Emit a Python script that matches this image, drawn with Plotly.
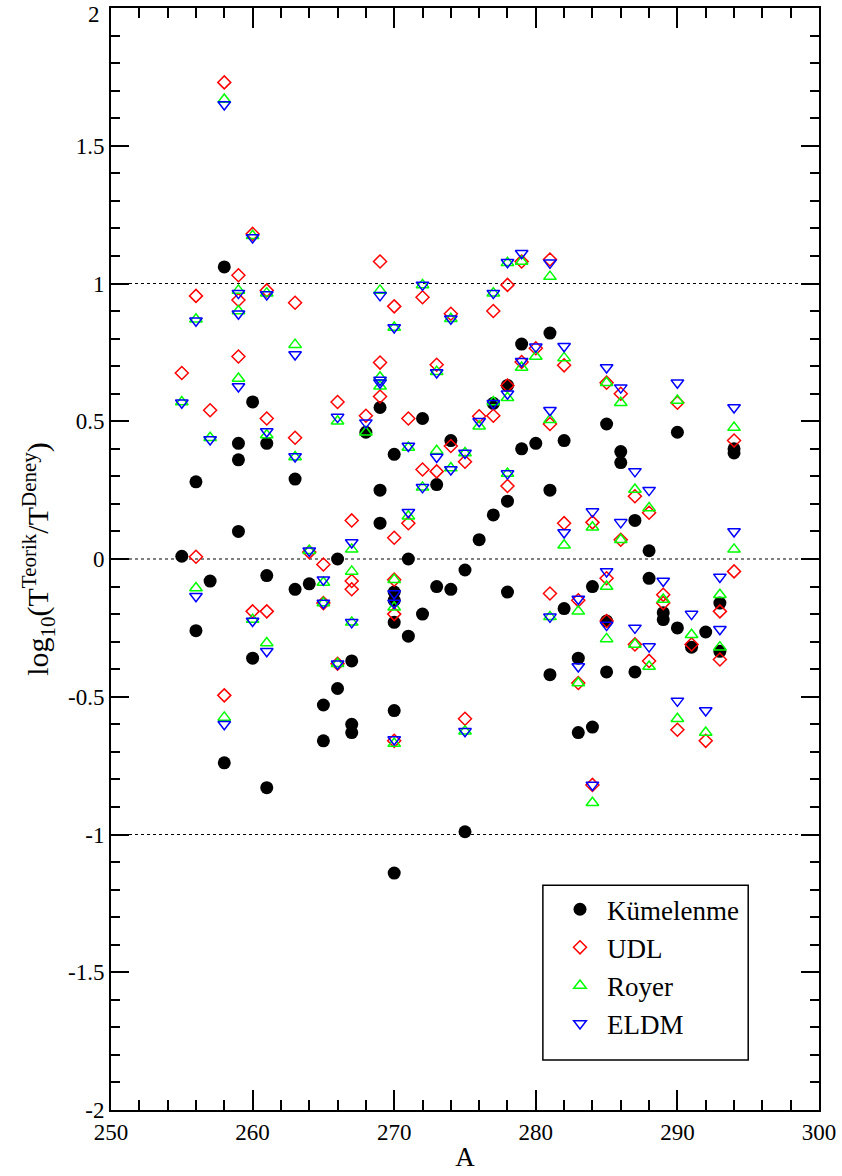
import plotly.graph_objects as go

# Kümelenme (cluster model) values
kum_A = [255, 256, 256, 257, 258, 258, 259, 259, 259, 260, 260, 261, 261, 261,
         263, 263, 264, 265, 265, 266, 266, 267, 267, 267, 268, 269, 269, 269,
         270, 270, 270, 270, 270, 270, 271, 271, 272, 272, 273, 273, 274, 274,
         275, 275, 276, 277, 277, 278, 278, 278, 279, 279, 280, 281, 281, 281,
         282, 282, 283, 283, 284, 284, 285, 285, 285, 286, 286, 287, 287, 288,
         288, 289, 289, 290, 290, 291, 292, 293, 293, 294, 294]
kum_val = [0.01, 0.28, -0.26, -0.08, 1.06, -0.74, 0.42, 0.36, 0.10, 0.57, -0.36,
           0.42, -0.06, -0.83, 0.29, -0.11, -0.09, -0.53, -0.66, 0.0, -0.47,
           -0.37, -0.60, -0.63, 0.46, 0.55, 0.25, 0.13, 0.38, -0.12, -0.15,
           -0.23, -0.55, -1.14, 0.0, -0.28, 0.51, -0.20, 0.27, -0.10, 0.43, -0.11,
           -0.04, -0.99, 0.07, 0.565, 0.16, 0.63, 0.21, -0.12, 0.78, 0.40, 0.42,
           0.82, 0.25, -0.42, 0.43, -0.18, -0.36, -0.63, -0.10, -0.61, 0.49,
           -0.225, -0.41, 0.39, 0.35, 0.14, -0.41, 0.03, -0.07, -0.195, -0.22,
           0.46, -0.25, -0.32, -0.265, -0.16, -0.335, 0.40, 0.385]

# UDL values
udl_A = [255, 256, 256, 257, 258, 258, 259, 259, 259, 260, 260, 261, 261, 261,
         263, 263, 264, 265, 265, 266, 266, 267, 267, 267, 268, 269, 269, 269,
         270, 270, 270, 270, 270, 271, 271, 272, 272, 273, 273, 274, 274, 275,
         275, 276, 277, 277, 278, 278, 278, 279, 279, 280, 281, 281, 281, 282,
         282, 283, 283, 284, 284, 285, 285, 285, 286, 286, 287, 287, 288, 288,
         289, 289, 290, 290, 291, 292, 293, 293, 294, 294]
udl_val = [0.675, 0.955, 0.008, 0.54, 1.73, -0.495, 1.03, 0.94, 0.735, 1.18,
           -0.19, 0.975, 0.51, -0.19, 0.93, 0.44, 0.025, -0.02, -0.16, 0.57,
           -0.38, 0.14, -0.08, -0.11, 0.52, 1.08, 0.713, 0.59, 0.917, 0.077,
           -0.075, -0.20, -0.66, 0.51, 0.13, 0.95, 0.325, 0.705, 0.318, 0.89,
           0.41, 0.353, -0.58, 0.518, 0.90, 0.52, 0.995, 0.63, 0.265, 1.08,
           0.715, 0.765, 1.087, 0.49, -0.125, 0.703, 0.13, -0.15, -0.45, 0.133,
           -0.82, 0.64, -0.07, -0.225, 0.60, 0.07, 0.228, -0.31, 0.168, -0.37,
           -0.13, -0.16, 0.567, -0.62, -0.31, -0.66, -0.19, -0.365, 0.43, -0.045]

# Royer values
roy_A = [255, 256, 256, 257, 258, 258, 259, 259, 259, 260, 260, 261, 261, 261,
         263, 263, 264, 265, 265, 266, 266, 267, 267, 267, 268, 269, 269, 269,
         270, 270, 270, 270, 271, 271, 272, 272, 273, 273, 274, 274, 275, 275,
         276, 277, 277, 278, 278, 278, 279, 279, 280, 281, 281, 281, 282, 282,
         283, 283, 284, 284, 285, 285, 285, 286, 286, 287, 287, 288, 288, 289,
         290, 290, 291, 292, 293, 293, 294, 294]
roy_val = [0.57, 0.87, -0.105, 0.44, 1.668, -0.575, 0.975, 0.90, 0.655, 1.173,
           -0.22, 0.965, 0.45, -0.305, 0.778, 0.37, 0.03, -0.085, -0.16, 0.50,
           -0.38, 0.035, -0.045, -0.23, 0.46, 0.975, 0.66, 0.627, 0.84, -0.075,
           -0.175, -0.67, 0.405, 0.155, 0.995, 0.26, 0.68, 0.393, 0.872, 0.33,
           0.385, -0.625, 0.482, 0.965, 0.57, 1.075, 0.585, 0.31, 1.08, 0.695,
           0.735, 1.025, 0.505, -0.21, 0.73, 0.05, -0.19, -0.45, 0.115, -0.885,
           0.64, -0.10, -0.29, 0.567, 0.07, 0.252, -0.31, 0.185, -0.39, -0.147,
           0.575, -0.58, -0.275, -0.63, -0.13, -0.32, 0.477, 0.035]

# ELDM values
eldm_A = [255, 256, 256, 257, 258, 258, 259, 259, 259, 260, 260, 261, 261, 261,
          263, 263, 264, 265, 265, 266, 266, 267, 267, 268, 269, 269, 269, 270,
          270, 270, 270, 271, 271, 272, 272, 273, 273, 274, 274, 275, 275, 276,
          277, 277, 278, 278, 278, 279, 279, 280, 281, 281, 281, 282, 282, 283,
          283, 284, 284, 285, 285, 285, 286, 286, 287, 287, 288, 288, 289, 290,
          290, 291, 292, 293, 293, 294, 294]
eldm_val = [0.567, 0.865, -0.135, 0.434, 1.65, -0.60, 0.965, 0.89, 0.626, 1.167,
            -0.225, 0.96, 0.463, -0.335, 0.742, 0.372, 0.03, -0.075, -0.16,
            0.515, -0.38, 0.06, -0.23, 0.495, 0.957, 0.65, 0.64, 0.84, -0.125,
            -0.16, -0.655, 0.41, 0.17, 0.995, 0.26, 0.677, 0.37, 0.872, 0.325,
            0.385, -0.625, 0.50, 0.965, 0.565, 1.077, 0.60, 0.31, 1.11, 0.718,
            0.77, 1.075, 0.54, -0.21, 0.772, 0.096, -0.145, -0.39, 0.172, -0.82,
            0.695, -0.045, -0.24, 0.622, 0.133, 0.318, -0.25, 0.25, -0.318,
            -0.08, 0.64, -0.515, -0.20, -0.55, -0.065, -0.255, 0.55, 0.10]

# Tick labels
x_ticks = [250, 260, 270, 280, 290, 300]
x_labels = ["250", "260", "270", "280", "290", "300"]
y_ticks = [-2, -1.5, -1, -0.5, 0, 0.5, 1, 1.5, 2]
# the top label is placed as an annotation so it stays inside the page
y_labels = ["-2", "-1.5", "-1", "-0.5", "0", "0.5", "1", "1.5", ""]
y_top_label = "2"

ref_lines = [1, 0, -1]

FONT = "Liberation Serif"

fig = go.Figure()

fig.add_trace(go.Scatter(
    x=kum_A, y=kum_val, mode="markers", name="Kümelenme",
    marker=dict(symbol="circle", size=13, color="black", line=dict(width=0)),
))
fig.add_trace(go.Scatter(
    x=udl_A, y=udl_val, mode="markers", name="UDL",
    marker=dict(symbol="diamond-open", size=10, color="red", line=dict(width=1.5)),
))
fig.add_trace(go.Scatter(
    x=roy_A, y=roy_val, mode="markers", name="Royer",
    marker=dict(symbol="triangle-up-open", size=11, color="#00ff00", line=dict(width=1.5)),
))
fig.add_trace(go.Scatter(
    x=eldm_A, y=eldm_val, mode="markers", name="ELDM",
    marker=dict(symbol="triangle-down-open", size=11, color="blue", line=dict(width=1.5)),
))

for yv in ref_lines:
    fig.add_shape(type="line", xref="paper", yref="y", x0=0, x1=1, y0=yv, y1=yv,
                  line=dict(color="black", width=1.2, dash="dot"), layer="below")

# frame around the legend
fig.add_shape(type="rect", xref="paper", yref="paper",
              x0=0.610, x1=0.900, y0=0.0454, y1=0.204,
              line=dict(color="black", width=1.5), fillcolor="white", layer="below")

fig.add_annotation(
    x=0, xref="paper", y=2, yref="y", text=y_top_label, showarrow=False,
    xanchor="right", yanchor="top", xshift=-9, yshift=8,
    font=dict(family=FONT, size=23, color="black"),
)

axis_common = dict(
    showline=True, linecolor="black", linewidth=2, mirror="allticks",
    ticks="inside", tickcolor="black", tickwidth=1.5,
    showgrid=False, zeroline=False, ticklabeloverflow="allow", automargin=False,
    tickfont=dict(family=FONT, size=23, color="black"),
)

fig.update_xaxes(
    range=[250, 300], tickvals=x_ticks, ticktext=x_labels, ticklen=20,
    minor=dict(tick0=250, dtick=2, ticks="inside", ticklen=10, tickcolor="black",
               tickwidth=1.5, showgrid=False),
    title=dict(text="A", font=dict(family=FONT, size=27, color="black"), standoff=4),
    **axis_common,
)
fig.update_yaxes(
    range=[-2, 2], tickvals=y_ticks, ticktext=y_labels, ticklen=18,
    minor=dict(tick0=-2, dtick=0.1, ticks="inside", ticklen=9, tickcolor="black",
               tickwidth=1.5, showgrid=False),
    title=dict(text="log<sub>10</sub>(T<sup>Teorik</sup>/T<sup>Deney</sup>)",
               font=dict(family=FONT, size=30, color="black"), standoff=10),
    **axis_common,
)

fig.update_layout(
    width=842, height=1176,
    margin=dict(l=111, r=23, t=8, b=66),
    paper_bgcolor="white", plot_bgcolor="white",
    showlegend=True,
    legend=dict(
        x=(553 - 111) / 708, y=0.204, xanchor="left", yanchor="top",
        bgcolor="rgba(0,0,0,0)", borderwidth=0,
        font=dict(family=FONT, size=27, color="black"),
        itemwidth=44, tracegroupgap=0,
    ),
)

fig.write_html("out.html")
